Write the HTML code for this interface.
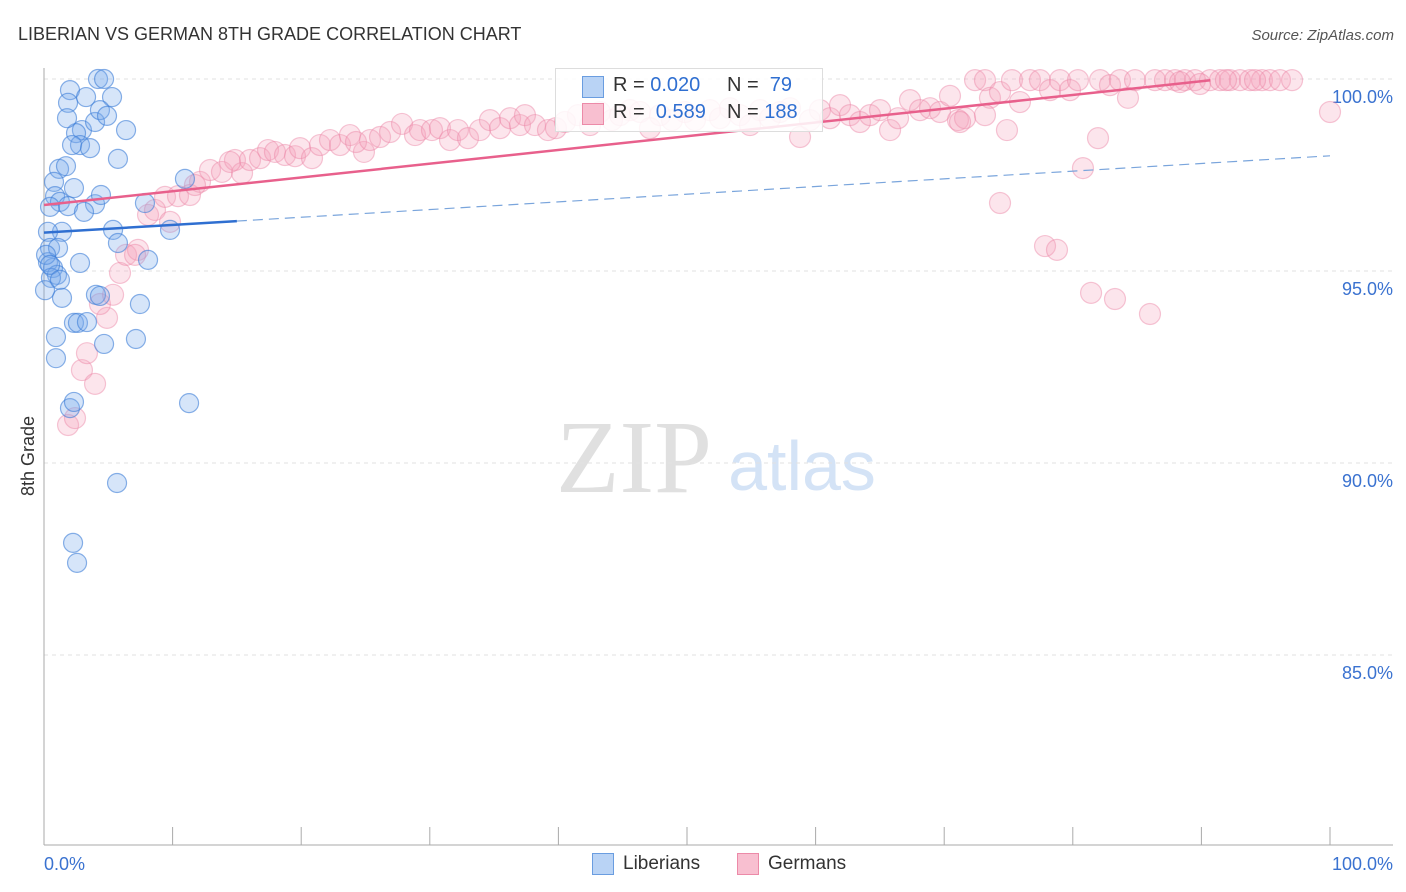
<!DOCTYPE html>
<html><head><meta charset="utf-8">
<style>
body{margin:0;background:#fff;font-family:"Liberation Sans",sans-serif;}
#wrap{position:relative;width:1406px;height:892px;overflow:hidden;}
</style></head>
<body>
<div id="wrap">
<svg id="svg" width="1406" height="892" xmlns="http://www.w3.org/2000/svg">
<text x="18" y="40" font-size="18" fill="#333">LIBERIAN VS GERMAN 8TH GRADE CORRELATION CHART</text>
<text x="1394" y="40" font-size="15" fill="#555" font-style="italic" text-anchor="end">Source: ZipAtlas.com</text>
<text x="634" y="492" font-size="104" fill="#e0e0e0" font-family="Liberation Serif,serif" text-anchor="middle">ZIP</text>
<text x="802" y="490" font-size="70" fill="#d4e3f6" text-anchor="middle">atlas</text>
<text transform="translate(34,456) rotate(-90)" font-size="18" fill="#333" text-anchor="middle">8th Grade</text>
<g id="grid"></g>
<g id="axes"></g>
<g id="pts"></g>
<g id="lines"></g>
</svg>
<div style="position:absolute;left:555px;top:68px;width:266px;height:62px;border:1px solid #ddd;background:rgba(255,255,255,0.85);font-size:20px;color:#333;">
 <div style="position:absolute;left:26px;top:7px;width:20px;height:20px;background:#b9d3f5;border:1px solid #6a9de0;"></div>
 <div style="position:absolute;left:57px;top:5px;">R = <span style="color:#2f6fd1">0.020</span></div>
 <div style="position:absolute;left:171px;top:5px;">N = &nbsp;<span style="color:#2f6fd1">79</span></div>
 <div style="position:absolute;left:26px;top:34px;width:20px;height:20px;background:#f8bfd0;border:1px solid #ec8aa8;"></div>
 <div style="position:absolute;left:57px;top:32px;">R = &nbsp;<span style="color:#2f6fd1">0.589</span></div>
 <div style="position:absolute;left:171px;top:32px;">N = <span style="color:#2f6fd1">188</span></div>
</div>
<div style="position:absolute;left:592px;top:853px;font-size:19px;color:#333;">
 <div style="position:absolute;left:0;top:0;width:20px;height:20px;background:#b9d3f5;border:1px solid #6a9de0;"></div>
 <div style="position:absolute;left:31px;top:0;white-space:nowrap;">Liberians</div>
</div>
<div style="position:absolute;left:737px;top:853px;font-size:19px;color:#333;">
 <div style="position:absolute;left:0;top:0;width:20px;height:20px;background:#f8bfd0;border:1px solid #ec8aa8;"></div>
 <div style="position:absolute;left:31px;top:0;white-space:nowrap;">Germans</div>
</div>
</div>
<script>
const yTicks=[100,95,90,85];
const yTickLabels=["100.0%","95.0%","90.0%","85.0%"];
const xTicks=[0,10,20,30,40,50,60,70,80,90,100];
const blueX=[4.2,4.67,2.02,5.29,1.87,3.27,2.95,2.49,3.97,4.35,4.9,6.38,1.79,2.8,2.18,3.58,5.75,1.17,1.71,0.78,2.33,0.86,1.24,0.47,1.87,3.97,4.43,3.11,7.85,10.96,9.8,1.4,0.31,5.37,0.47,1.09,5.75,8.09,0.31,0.7,2.8,1.01,0.54,1.4,4.04,4.35,7.46,2.33,2.64,3.34,0.93,7.15,4.67,0.93,2.02,2.33,11.28,5.68,2.26,2.57,0.16,0.47,0.08,1.24];
const blueY=[100,100,99.71,99.53,99.38,99.53,98.67,98.59,98.88,99.19,99.04,98.67,98.98,98.28,98.28,98.2,97.92,97.66,97.73,97.32,97.16,96.95,96.8,96.67,96.69,96.74,96.98,96.54,96.77,97.4,96.07,96.02,96.02,96.07,95.6,95.6,95.73,95.29,95.23,95.08,95.21,94.9,94.82,94.3,94.38,94.35,94.14,93.65,93.65,93.67,93.28,93.23,93.1,92.73,91.43,91.59,91.56,89.48,87.92,87.4,95.42,95.16,94.5,94.77];
const pinkX=[1.87,2.41,2.95,3.34,3.97,4.9,4.35,5.37,5.91,6.38,7.31,7.08,8.09,8.63,9.8,9.41,10.42,11.35,12.13,11.74,12.91,13.84,14.85,15.4,14.46,16.02,16.8,17.42,17.96,18.74,19.52,19.91,20.84,21.46,22.24,23.02,23.79,24.88,24.26,25.35,26.13,26.91,27.84,28.85,29.24,30.17,30.79,31.57,32.19,32.97,33.9,34.68,35.46,36.24,37.01,37.4,38.18,39.19,39.81,40.51,41.52,42.46,43.23,44.17,44.79,45.57,46.35,47.12,47.9,48.83,49.84,50.62,51.79,52.57,53.34,54.12,54.9,55.68,56.45,57.23,58.01,58.79,59.56,60.34,61.12,61.9,62.67,63.45,64.23,65.01,65.79,66.41,67.34,68.12,68.9,69.67,70.45,71.07,71.62,72.4,73.17,73.56,74.34,75.27,75.89,76.67,77.45,78.23,79.0,79.78,80.4,81.96,80.79,74.34,77.84,78.77,81.42,83.28,86.0,100,82.12,82.89,83.67,84.29,84.84,86.39,87.17,87.95,88.72,89.5,90.67,91.45,92.22,93.0,93.78,94.71,95.33,96.11,97.05,88.34,89.89,91.91,94.17,73.17,74.88,71.23];
const pinkY=[90.99,91.17,92.42,92.86,92.06,93.78,94.14,94.38,94.95,95.42,95.55,95.42,96.46,96.59,96.28,96.93,96.95,96.98,97.32,97.24,97.63,97.58,97.89,97.55,97.84,97.89,97.94,98.15,98.1,98.02,97.99,98.2,97.94,98.28,98.41,98.28,98.54,98.1,98.36,98.41,98.49,98.62,98.83,98.54,98.67,98.67,98.72,98.41,98.67,98.46,98.67,98.93,98.72,98.98,98.8,99.06,98.8,98.67,98.72,98.88,99.06,98.8,99.14,98.93,99.06,99.19,99.14,98.72,99.06,98.93,99.14,98.93,99.19,98.98,99.24,99.06,98.8,99.19,98.98,99.14,99.24,98.49,98.93,99.19,98.98,99.32,99.06,98.88,99.06,99.19,98.67,98.98,99.45,99.19,99.24,99.14,99.56,98.93,98.98,99.97,99.97,99.51,99.66,99.97,99.4,99.97,99.97,99.71,99.97,99.71,99.97,98.46,97.68,96.77,95.65,95.55,94.43,94.27,93.88,99.14,99.97,99.84,99.97,99.51,99.97,99.97,99.97,99.97,99.97,99.97,99.97,99.97,99.97,99.97,99.97,99.97,99.97,99.97,99.97,99.92,99.87,99.97,99.97,99.06,98.67,98.88];
const blueLine={intercept:96.0,slope:0.02,solidEnd:15};
const pinkLine={intercept:96.72,slope:0.0358,end:90.7};

const NS="http://www.w3.org/2000/svg";
const X0=44,X1=1330,YTOP=79,PXPER=38.4;
function xs(v){return X0+(X1-X0)*v/100;}
function ys(v){return YTOP+(100-v)*PXPER;}
function mk(tag,attrs,parent){const e=document.createElementNS(NS,tag);for(const k in attrs)e.setAttribute(k,attrs[k]);parent.appendChild(e);return e;}
const grid=document.getElementById('grid'),axes=document.getElementById('axes'),pts=document.getElementById('pts'),lines=document.getElementById('lines');
yTicks.forEach((t,i)=>{
  const l=mk('line',{x1:X0,x2:1395,y1:ys(t),y2:ys(t),stroke:'#e2e2e2','stroke-dasharray':'4,4'},grid);
  
  
  const tx=mk('text',{x:1393,y:ys(t)+24,'font-size':18,fill:'#3a72d0','text-anchor':'end'},grid);
  tx.textContent=yTickLabels[i];
  
  
});
const ax=mk('line',{x1:X0,x2:X0,y1:68,y2:845,stroke:'#aaa'},axes);


const bx=mk('line',{x1:X0,x2:1393,y1:845,y2:845,stroke:'#aaa'},axes);


xTicks.forEach(t=>{
  const l=mk('line',{x1:xs(t),x2:xs(t),y1:827,y2:845,stroke:'#aaa'},axes);
  
  
});
const xl0=mk('text',{x:44,y:870,'font-size':18,fill:'#3a72d0'},axes);xl0.textContent='0.0%';


const xl1=mk('text',{x:1393,y:870,'font-size':18,fill:'#3a72d0','text-anchor':'end'},axes);xl1.textContent='100.0%';


pinkX.forEach((v,i)=>{
  const c=mk('circle',{cx:xs(v),cy:ys(pinkY[i]),r:10.5,fill:'rgba(246,160,188,0.28)',stroke:'rgba(236,130,165,0.45)','stroke-width':1.2},pts);
  
  
});
blueX.forEach((v,i)=>{
  const c=mk('circle',{cx:xs(v),cy:ys(blueY[i]),r:9.5,fill:'rgba(120,168,235,0.3)',stroke:'rgba(60,125,215,0.6)','stroke-width':1.2},pts);
  
  
});
const bf=x=>blueLine.intercept+blueLine.slope*x;
const b1=mk('line',{x1:xs(0),y1:ys(bf(0)),x2:xs(blueLine.solidEnd),y2:ys(bf(blueLine.solidEnd)),stroke:'#2f6fd1','stroke-width':2.5},lines);


const b2=mk('line',{x1:xs(blueLine.solidEnd),y1:ys(bf(blueLine.solidEnd)),x2:xs(100),y2:ys(bf(100)),stroke:'#7aa5dc','stroke-width':1.2,'stroke-dasharray':'10,6'},lines);


const pf=x=>pinkLine.intercept+pinkLine.slope*x;
const p1=mk('line',{x1:xs(0),y1:ys(pf(0)),x2:xs(pinkLine.end),y2:ys(pf(pinkLine.end)),stroke:'#e8608c','stroke-width':2.5},lines);


</script>
</body></html>
